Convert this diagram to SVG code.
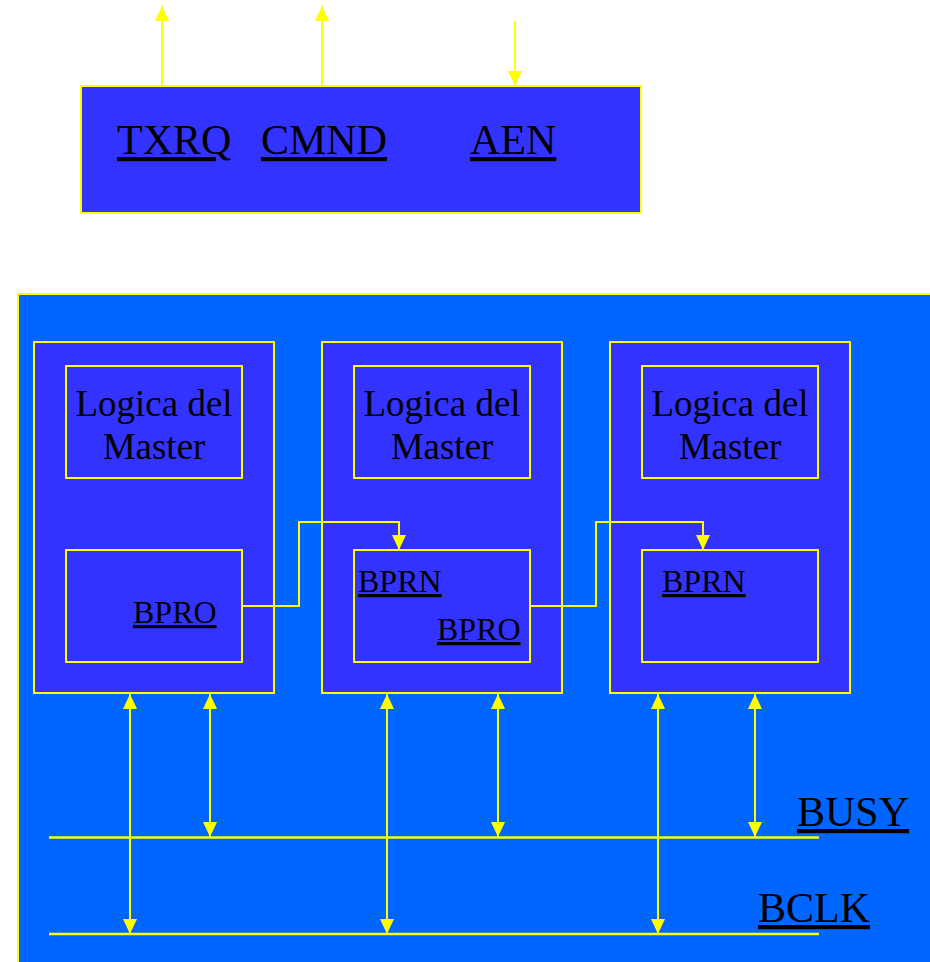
<svg xmlns="http://www.w3.org/2000/svg" width="930" height="962" viewBox="0 0 930 962">
<style>
.box{fill:#3333FF;stroke:#FFFF00;stroke-width:2}
.outer{fill:#0066FF;stroke:#FFFF00;stroke-width:2}
.t{font-family:"Liberation Serif","Times New Roman",serif;fill:#000}
.big{font-size:42px;text-decoration:underline}
.lg{font-size:37px;text-anchor:middle}
.sm{font-size:32px;text-decoration:underline}
.ln{stroke:#FFFF00;stroke-width:2;fill:none}
.bus{stroke:#FFFF00;stroke-width:2.5;fill:none}
</style>
<defs>
<marker id="ah" viewBox="0 0 15 14" refX="15" refY="7" markerWidth="15" markerHeight="14" markerUnits="userSpaceOnUse" orient="auto-start-reverse">
<path d="M0,0 L15,7 L0,14 z" fill="#FFFF00"/>
</marker>
</defs>
<rect width="930" height="962" fill="#FFFFFF"/>
<g id="controller">
<rect class="box" x="81" y="86" width="560" height="127"/>
<text class="t big" x="117" y="154">TXRQ</text>
<text class="t big" x="261" y="154">CMND</text>
<text class="t big" x="470" y="154">AEN</text>
</g>
<g id="bus-area">
<rect class="outer" x="18" y="294" width="930" height="690"/>
<text class="t big" x="797" y="826">BUSY</text>
<text class="t big" x="758" y="922">BCLK</text>
</g>
<g id="master1">
<rect class="box" x="34" y="342" width="240" height="351"/>
<rect class="box" x="66" y="366" width="176" height="112"/>
<text class="t lg" x="154" y="416">Logica del</text>
<text class="t lg" x="154" y="459">Master</text>
<rect class="box" x="66" y="550" width="176" height="112"/>
<text class="t sm" x="133" y="623">BPRO</text>
</g>
<g id="master2">
<rect class="box" x="322" y="342" width="240" height="351"/>
<rect class="box" x="354" y="366" width="176" height="112"/>
<text class="t lg" x="442" y="416">Logica del</text>
<text class="t lg" x="442" y="459">Master</text>
<rect class="box" x="354" y="550" width="176" height="112"/>
<text class="t sm" x="358" y="592">BPRN</text>
<text class="t sm" x="437" y="640">BPRO</text>
</g>
<g id="master3">
<rect class="box" x="610" y="342" width="240" height="351"/>
<rect class="box" x="642" y="366" width="176" height="112"/>
<text class="t lg" x="730" y="416">Logica del</text>
<text class="t lg" x="730" y="459">Master</text>
<rect class="box" x="642" y="550" width="176" height="112"/>
<text class="t sm" x="662" y="592">BPRN</text>
</g>
<g id="connectors">
<line class="ln" x1="162" y1="86" x2="162" y2="6" marker-end="url(#ah)"/>
<line class="ln" x1="322" y1="86" x2="322" y2="6" marker-end="url(#ah)"/>
<line class="ln" x1="515" y1="21" x2="515" y2="86" marker-end="url(#ah)"/>
<polyline class="ln" points="242,606 299,606 299,522 399,522 399,550" marker-end="url(#ah)"/>
<polyline class="ln" points="530,606 596,606 596,522 703,522 703,550" marker-end="url(#ah)"/>
<line class="bus" x1="49" y1="837.5" x2="819" y2="837.5"/>
<line class="bus" x1="49" y1="934" x2="819" y2="934"/>
<line class="ln" x1="130" y1="694" x2="130" y2="934" marker-start="url(#ah)" marker-end="url(#ah)"/>
<line class="ln" x1="387" y1="694" x2="387" y2="934" marker-start="url(#ah)" marker-end="url(#ah)"/>
<line class="ln" x1="658" y1="694" x2="658" y2="934" marker-start="url(#ah)" marker-end="url(#ah)"/>
<line class="ln" x1="210" y1="694" x2="210" y2="837" marker-start="url(#ah)" marker-end="url(#ah)"/>
<line class="ln" x1="498" y1="694" x2="498" y2="837" marker-start="url(#ah)" marker-end="url(#ah)"/>
<line class="ln" x1="755" y1="694" x2="755" y2="837" marker-start="url(#ah)" marker-end="url(#ah)"/>
</g>
</svg>
